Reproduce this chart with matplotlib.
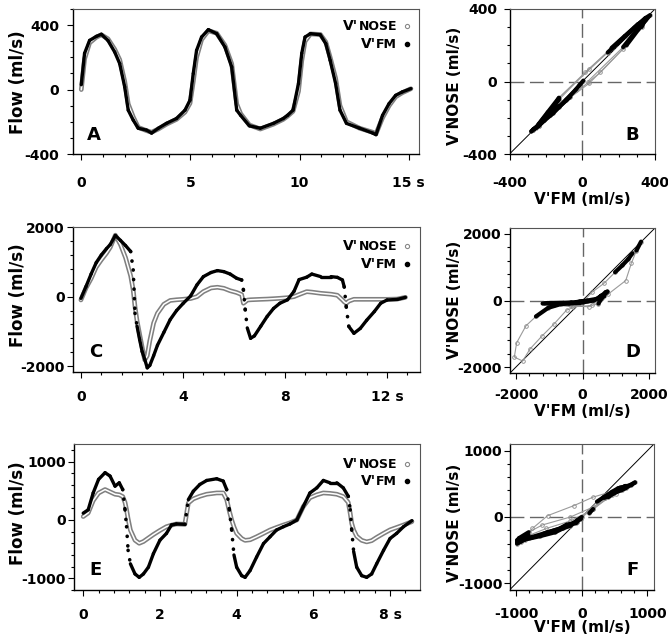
import matplotlib
matplotlib.use('Agg')
import matplotlib.pyplot as plt
from matplotlib.ticker import MultipleLocator
from matplotlib.collections import LineCollection

plt.rcParams['font.family'] = ['DejaVu Sans']
plt.rcParams['font.weight'] = 'bold'

# ---------------- data ----------------
# Panel A / B : quiet breathing
t_a = [0, 0.15, 0.38, 0.69, 0.92, 1.22, 1.53, 1.76, 1.99, 2.15,
       2.38, 2.61, 2.99, 3.22, 3.53, 3.9, 4.36, 4.75, 4.98, 5.13,
       5.28, 5.51, 5.82, 6.2, 6.58, 6.89, 7.12, 7.3, 7.7, 8.2,
       8.8, 9.25, 9.45, 9.7, 9.95, 10.1, 10.25, 10.5, 10.95, 11.2,
       11.4, 11.65, 11.85, 12.15, 12.75, 13.35, 13.5, 13.8, 14.1, 14.4,
       14.7, 15.1]
fm_a = [30, 225, 305, 330, 343, 305, 233, 161, 16, -128,
        -190, -240, -252, -270, -240, -210, -180, -128, -66, 100,
        243, 326, 372, 347, 264, 140, -128, -160, -225, -240,
        -210, -180, -160, -128, 38, 225, 326, 347, 340, 285,
        182, 38, -128, -210, -240, -270, -280, -160, -87, -36,
        -15, 6]
nose_a = [0, 190, 290, 325, 340, 315, 250, 185, 50, -90,
          -170, -235, -255, -265, -245, -215, -185, -140, -85, 50,
          200, 310, 365, 350, 275, 160, -90, -150, -220, -245,
          -215, -185, -165, -135, -10, 180, 300, 345, 342, 295,
          200, 70, -100, -200, -240, -265, -275, -175, -100, -45,
          -20, 5]

# Panel C / D
t_c = [0, 0.2, 0.4, 0.6, 0.8, 1.0, 1.15, 1.35, 1.55, 1.75,
       1.95, 2.05, 2.12, 2.2, 2.3, 2.4, 2.5, 2.6, 2.7, 2.85,
       3.0, 3.25, 3.5, 3.75, 4.0, 4.3, 4.55, 4.8, 5.1, 5.35,
       5.6, 5.85, 6.1, 6.3, 6.37, 6.44, 6.52, 6.65, 6.8, 7.05,
       7.3, 7.55, 7.8, 8.1, 8.35, 8.55, 8.85, 9.05, 9.4, 9.8,
       10.05, 10.25, 10.32, 10.4, 10.5, 10.7, 10.95, 11.2, 11.5, 11.75,
       12.0, 12.4, 12.72]
fm_c = [-50, 290, 650, 980, 1200, 1380, 1500, 1760, 1620, 1470,
        1300, 770, -480, -850, -1230, -1580, -1800, -2050, -1980, -1700,
        -1400, -1030, -660, -400, -200, 20, 340, 576, 695, 750,
        720, 650, 530, 480, 190, -380, -900, -1200, -1130, -850,
        -570, -340, -190, -90, 150, 490, 560, 650, 576, 576,
        555, 480, 280, -300, -860, -1056, -915, -680, -430, -190,
        -96, -80, -20]
nose_c = [-96, 250, 520, 850, 1060, 1250, 1420, 1770, 1500, 1120,
          600, 190, -290, -700, -1080, -1460, -1820, -1700, -1270, -760,
          -480, -220, -110, -90, -77, -55, 0, 144, 250, 270,
          240, 170, 120, 60, -190, -150, -100, -90, -85, -77,
          -70, -60, -48, -30, 0, 60, 144, 130, 96, 70,
          40, -96, -150, -192, -130, -77, -77, -77, -77, -77,
          -77, -70, -20]

# Panel E / F
t_e = [0, 0.13, 0.26, 0.4, 0.57, 0.7, 0.83, 0.94, 1.03, 1.09,
       1.13, 1.17, 1.23, 1.35, 1.46, 1.57, 1.7, 1.83, 2.0, 2.17,
       2.3, 2.43, 2.65, 2.74, 2.87, 3.04, 3.22, 3.48, 3.65, 3.74,
       3.81, 3.87, 3.93, 4.0, 4.13, 4.22, 4.35, 4.52, 4.7, 4.87,
       5.04, 5.22, 5.39, 5.57, 5.74, 5.91, 6.09, 6.26, 6.43, 6.61,
       6.78, 6.91, 6.96, 7.0, 7.05, 7.13, 7.26, 7.39, 7.52, 7.65,
       7.83, 8.0, 8.17, 8.35, 8.57]
fm_e = [116, 173, 462, 694, 809, 751, 578, 636, 520, 173,
        -116, -520, -751, -925, -983, -925, -809, -578, -347, -231,
        -87, -69, -75, 347, 491, 607, 676, 705, 665, 520,
        173, -173, -600, -809, -954, -983, -867, -636, -405, -289,
        -173, -116, -69, 0, 231, 462, 549, 676, 636, 636,
        549, 405, 173, -173, -540, -809, -954, -983, -925, -751,
        -520, -318, -231, -116, -12]
nose_e = [58, 120, 330, 460, 520, 480, 440, 430, 400, 300,
          173, 20, -173, -347, -400, -370, -310, -250, -180, -116,
          -90, -69, -75, 289, 360, 405, 440, 462, 462, 350,
          150, 0, -120, -230, -318, -350, -340, -289, -230, -173,
          -130, -87, -50, 0, 231, 380, 430, 462, 455, 440,
          400, 300, 116, -60, -173, -280, -350, -376, -355, -300,
          -231, -170, -130, -87, -29]

xt_a = [0, 5, 10, 15]
xt_a_lab = ['0', '5', '10', '15 s']
yt_a = [-400, 0, 400]
xt_c = [0, 4, 8, 12]
xt_c_lab = ['0', '4', '8', '12 s']
yt_c = [-2000, 0, 2000]
xt_e = [0, 2, 4, 6, 8]
xt_e_lab = ['0', '2', '4', '6', '8 s']
yt_e = [-1000, 0, 1000]

# ---------------- figure ----------------
W, H = 668, 641
fig = plt.figure(figsize=(W / 100, H / 100), dpi=100)
fig.patch.set_facecolor('white')

GRAY = '#808080'


def add_ax(l, t, r, b):
    return fig.add_axes([l / W, 1 - b / H, (r - l) / W, (b - t) / H])


def style(ax, xlim, ylim, xt, xlab, yt, xminor, yminor, xpad, ypad):
    ax.set_xlim(*xlim)
    ax.set_ylim(*ylim)
    ax.set_xticks(xt)
    ax.set_xticklabels(xlab)
    ax.set_yticks(yt)
    ax.set_yticklabels([str(v) for v in yt])
    ax.xaxis.set_minor_locator(MultipleLocator(xminor))
    ax.yaxis.set_minor_locator(MultipleLocator(yminor))
    ax.tick_params(which='both', direction='out', top=False, right=False,
                   width=0.8, labelsize=10)
    ax.tick_params(which='major', length=4)
    ax.tick_params(which='minor', length=2.5)
    ax.tick_params(axis='x', which='major', pad=xpad)
    ax.tick_params(axis='y', which='major', pad=ypad)
    for s in ['left', 'bottom']:
        ax.spines[s].set_linewidth(1.0)
        ax.spines[s].set_color('black')
    for s in ['top', 'right']:
        ax.spines[s].set_linewidth(0.8)
        ax.spines[s].set_color('#555555')
    for lab in ax.get_xticklabels() + ax.get_yticklabels():
        lab.set_fontweight('bold')


def split_segments(t, xs, ys, speed_fn, thr):
    slow, fast = [], []
    for i in range(len(t) - 1):
        seg = [(xs[i], ys[i]), (xs[i + 1], ys[i + 1])]
        sp = speed_fn(i)
        (slow if sp < thr else fast).append(seg)
    return slow, fast


def draw_ts(ax, t, nose, fm, thr):
    ax.plot(t, nose, color=GRAY, lw=3.4, solid_joinstyle='round',
            solid_capstyle='round', zorder=3)
    ax.plot(t, nose, color='white', lw=1.1, solid_joinstyle='round', zorder=3.1)
    slow, fast = split_segments(
        t, t, fm, lambda i: abs(fm[i + 1] - fm[i]) / (t[i + 1] - t[i]), thr)
    ax.add_collection(LineCollection(slow, colors='black', linewidths=2.4,
                                     capstyle='round', joinstyle='round', zorder=4))
    ax.add_collection(LineCollection(fast, colors='black', linewidths=2.6,
                                     linestyles=[(0, (0.05, 2.6))],
                                     capstyle='round', zorder=4))


def draw_xy(ax, t, fm, nose, lim, thr):
    ax.plot([-lim, lim], [-lim, lim], color='black', lw=0.7, zorder=2)
    ax.axhline(0, color='#666666', lw=1.0, dashes=(10, 4), zorder=1)
    ax.axvline(0, color='#666666', lw=1.0, dashes=(10, 4), zorder=1)
    slow, fast = split_segments(
        t, fm, nose,
        lambda i: ((fm[i + 1] - fm[i]) ** 2 + (nose[i + 1] - nose[i]) ** 2) ** 0.5
        / (t[i + 1] - t[i]) / lim, thr)
    ax.add_collection(LineCollection(fast, colors='#9a9a9a', linewidths=0.8, zorder=3))
    ax.plot(fm, nose, ls='none', marker='o', ms=2.6, mfc='none', mec='#8a8a8a',
            mew=0.6, zorder=3)
    ax.add_collection(LineCollection(slow, colors='black', linewidths=3.0,
                                     capstyle='round', joinstyle='round', zorder=4))


def legend(y_nose, y_fm):
    renderer = fig.canvas.get_renderer()
    xr = 397
    xm = 407
    for y, sub, kind in [(y_nose, 'NOSE', 'nose'), (y_fm, 'FM', 'fm')]:
        t2 = fig.text(xr / W, 1 - y / H, sub, ha='right', va='baseline',
                      fontsize=9, fontweight='bold')
        bb = t2.get_window_extent(renderer=renderer)
        fig.text(bb.x0 / W, 1 - y / H, "V'", ha='right', va='baseline',
                 fontsize=10, fontweight='bold')
        if kind == 'nose':
            fig.lines.append(plt.Line2D([xm / W], [1 - (y - 4) / H], marker='o',
                                        ms=3, mfc='white', mec='#888888', mew=0.8,
                                        transform=fig.transFigure, figure=fig))
        else:
            fig.lines.append(plt.Line2D([xm / W], [1 - (y - 4) / H], marker='o',
                                        ms=3, mfc='black', mec='black',
                                        transform=fig.transFigure, figure=fig))


# ---- Panel A ----
axA = add_ax(73, 9, 419, 154)
draw_ts(axA, t_a, nose_a, fm_a, 1e9)
style(axA, (-0.38, 15.47), (-400, 500), xt_a, xt_a_lab, yt_a, 1, 100, 12, 6)
axA.text(0.06, 0.13, 'A', transform=axA.transAxes, fontsize=13,
         fontweight='bold', ha='center', va='center')

# ---- Panel B ----
axB = add_ax(509.5, 9, 655, 154)
draw_xy(axB, t_a, fm_a, nose_a, 400, 1.5)
style(axB, (-400, 400), (-400, 400), yt_a, [str(v) for v in yt_a], yt_a,
      100, 100, 12, 5)
axB.text(0.84, 0.13, 'B', transform=axB.transAxes, fontsize=13,
         fontweight='bold', ha='center', va='center')

# ---- Panel C ----
axC = add_ax(73, 227, 420, 372)
draw_ts(axC, t_c, nose_c, fm_c, 4000)
style(axC, (-0.31, 13.29), (-2170, 2005), xt_c, xt_c_lab, yt_c, 0.8, 400, 9, 2)
axC.text(0.066, 0.137, 'C', transform=axC.transAxes, fontsize=13,
         fontweight='bold', ha='center', va='center')

# ---- Panel D ----
axD = add_ax(510, 228, 655, 373)
draw_xy(axD, t_c, fm_c, nose_c, 2180, 0.9)
style(axD, (-2180, 2180), (-2180, 2180), yt_c, [str(v) for v in yt_c], yt_c,
      400, 400, 7, 2)
axD.text(0.85, 0.146, 'D', transform=axD.transAxes, fontsize=13,
         fontweight='bold', ha='center', va='center')

# ---- Panel E ----
axE = add_ax(74, 444, 420, 590)
draw_ts(axE, t_e, nose_e, fm_e, 3500)
style(axE, (-0.24, 8.78), (-1200, 1300), xt_e, xt_e_lab, yt_e, 0.4, 200, 9, 2)
axE.text(0.061, 0.137, 'E', transform=axE.transAxes, fontsize=13,
         fontweight='bold', ha='center', va='center')

# ---- Panel F ----
axF = add_ax(509.5, 444, 654, 590)
draw_xy(axF, t_e, fm_e, nose_e, 1100, 1.5)
style(axF, (-1100, 1100), (-1100, 1100), yt_e, [str(v) for v in yt_e], yt_e,
      200, 200, 8, 1)
axF.text(0.85, 0.137, 'F', transform=axF.transAxes, fontsize=13,
         fontweight='bold', ha='center', va='center')

# ---- axis labels ----
for yc in [82, 295, 513]:
    fig.text(18 / W, 1 - yc / H, 'Flow (ml/s)', rotation=90, ha='center',
             va='center', fontsize=12, fontweight='bold')
for yc in [86, 300, 523]:
    fig.text(455 / W, 1 - yc / H, "V'NOSE (ml/s)", rotation=90, ha='center',
             va='center', fontsize=11, fontweight='bold')
for yc in [200, 412, 627]:
    fig.text(582 / W, 1 - yc / H, "V'FM (ml/s)", ha='center', va='center',
             fontsize=11, fontweight='bold')

# ---- legends ----
legend(30, 48)
legend(250, 268)
legend(468, 485)

fig.savefig('out.png', dpi=100, facecolor='white')
